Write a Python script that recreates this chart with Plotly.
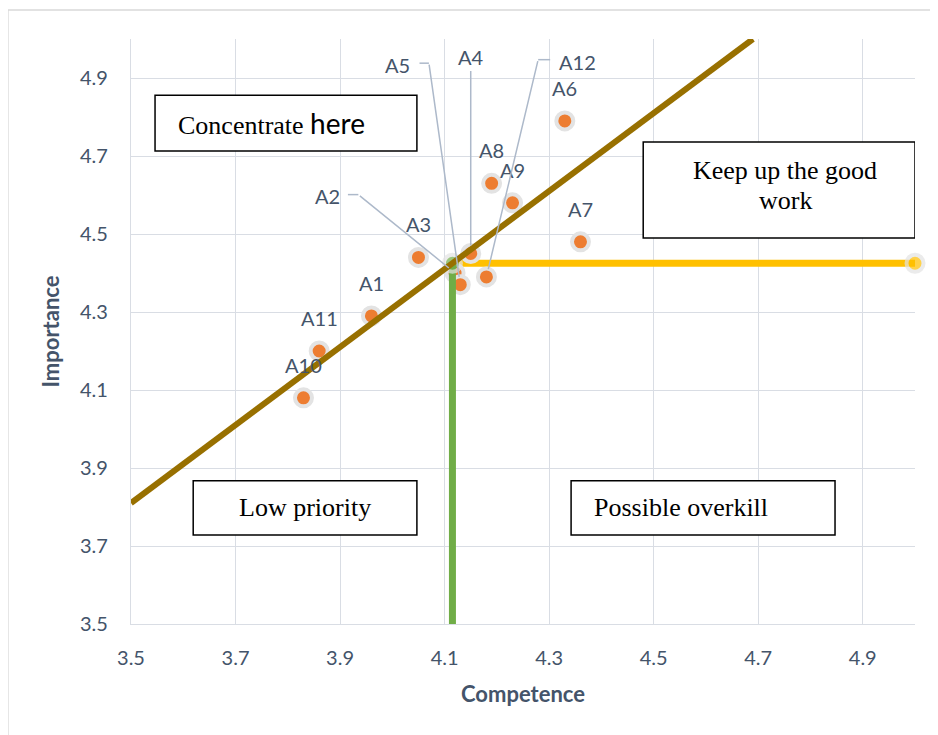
import plotly.graph_objects as go

# ---------------- data ----------------
labels = ["A1", "A2", "A3", "A4", "A5", "A6", "A7", "A8", "A9", "A10", "A11", "A12"]
competence = [3.96, 4.12, 4.05, 4.15, 4.13, 4.33, 4.36, 4.19, 4.23, 3.83, 3.86, 4.18]
importance = [4.29, 4.40, 4.44, 4.45, 4.37, 4.79, 4.48, 4.63, 4.58, 4.08, 4.20, 4.39]

mean_comp_x = [4.115, 4.115]
mean_comp_y = [3.5, 4.425]
mean_imp_x = [4.115, 5.0]
mean_imp_y = [4.425, 4.425]
diag_x = [3.5, 4.69]
diag_y = [3.81, 5.0]

tick_vals = [3.5, 3.7, 3.9, 4.1, 4.3, 4.5, 4.7, 4.9]
tick_text = ["3.5", "3.7", "3.9", "4.1", "4.3", "4.5", "4.7", "4.9"]

# labels with leader lines: label position, elbow start, elbow end (data units)
leader_labels = {
    "A2": dict(lx=3.875, ly=4.598, ex0=3.935, ex1=3.915, ey=4.601),
    "A5": dict(lx=4.009, ly=4.933, ex0=4.070, ex1=4.052, ey=4.938),
    "A4": dict(lx=4.15, ly=4.953, ex0=4.15, ex1=4.15, ey=4.922),
    "A12": dict(lx=4.355, ly=4.942, ex0=4.279, ex1=4.302, ey=4.947),
}

quadrant_boxes = [
    dict(x0=3.546, x1=4.047, y0=4.713, y1=4.856, xshift=-14,
         lines=["Concentrate <span style='font-family:Lato;font-size:28px'>here</span>"]),
    dict(x0=4.480, x1=5.0, y0=4.490, y1=4.736, xshift=6,
         lines=["Keep up the good", "work"]),
    dict(x0=3.619, x1=4.047, y0=3.728, y1=3.867, xshift=0, lines=["Low priority"]),
    dict(x0=4.342, x1=4.847, y0=3.728, y1=3.867, xshift=-22, lines=["Possible overkill"]),
]

# ---------------- styles ----------------
TXT = "#44546A"
GRID = "#D9DDE4"
FONT = "Lato"

fig = go.Figure()

fig.add_trace(go.Scatter(
    x=mean_imp_x, y=mean_imp_y, mode="lines+markers",
    line=dict(color="#FFC000", width=7),
    marker=dict(size=[0, 17], color="#FFC000", line=dict(color="#E3E3E3", width=[0, 4])),
    hoverinfo="skip", showlegend=False, cliponaxis=False))

fig.add_trace(go.Scatter(
    x=competence, y=importance, mode="markers",
    marker=dict(size=17, color="#ED7D31", line=dict(color="#E3E3E3", width=4)),
    text=labels, showlegend=False))

fig.add_trace(go.Scatter(
    x=mean_comp_x, y=mean_comp_y, mode="lines+markers",
    line=dict(color="#70AD47", width=7),
    marker=dict(size=[0, 17], color="#70AD47", line=dict(color="#E3E3E3", width=[0, 4])),
    hoverinfo="skip", showlegend=False))

fig.add_trace(go.Scatter(
    x=diag_x, y=diag_y, mode="lines",
    line=dict(color="#987000", width=6),
    hoverinfo="skip", showlegend=False))

annotations = []
shapes = []

for lab, cx, cy in zip(labels, competence, importance):
    if lab in leader_labels:
        d = leader_labels[lab]
        annotations.append(dict(x=d["lx"], y=d["ly"], text=lab, showarrow=False,
                                font=dict(family=FONT, size=20, color=TXT)))
        annotations.append(dict(x=cx, y=cy, ax=d["ex0"], ay=d["ey"], axref="x", ayref="y",
                                text="", showarrow=True, arrowhead=0, arrowwidth=1.5,
                                arrowcolor="#ADB9CA", standoff=8))
        if d["ex0"] != d["ex1"]:
            shapes.append(dict(type="line", xref="x", yref="y", x0=d["ex0"], x1=d["ex1"],
                               y0=d["ey"], y1=d["ey"], line=dict(color="#ADB9CA", width=1.5),
                               layer="above"))
    else:
        annotations.append(dict(x=cx, y=cy, text=lab, showarrow=False, yshift=33,
                                font=dict(family=FONT, size=20, color=TXT)))

for b in quadrant_boxes:
    shapes.append(dict(type="rect", xref="x", yref="y", x0=b["x0"], x1=b["x1"],
                       y0=b["y0"], y1=b["y1"], line=dict(color="black", width=1.5),
                       fillcolor="white", layer="above"))
    n = len(b["lines"])
    for i, t in enumerate(b["lines"]):
        annotations.append(dict(x=(b["x0"] + b["x1"]) / 2, y=(b["y0"] + b["y1"]) / 2,
                                text=t, showarrow=False, xshift=b["xshift"],
                                yshift=(n - 1) * 15 - i * 30 + (4 if n > 1 else 0),
                                font=dict(family="Liberation Serif", size=26, color="black")))

# outer chart border
shapes.append(dict(type="rect", xref="paper", yref="paper", x0=-0.157, x1=1.05,
                   y0=-0.25, y1=1.0496, line=dict(color="#D9D9D9", width=1.5),
                   layer="below"))

fig.update_layout(
    width=930, height=727,
    margin=dict(l=123, r=23, t=31, b=111),
    paper_bgcolor="white", plot_bgcolor="white",
    annotations=annotations, shapes=shapes,
    font=dict(family=FONT, color=TXT),
    xaxis=dict(range=[3.5, 5.0], tickvals=tick_vals, ticktext=tick_text,
               showgrid=True, gridcolor=GRID, gridwidth=1.3, zeroline=False,
               showline=True, linecolor=GRID, linewidth=1.3,
               ticks="", ticklabelstandoff=16,
               tickfont=dict(family=FONT, size=20, color=TXT),
               title=dict(text="<b>Competence</b>", standoff=18,
                          font=dict(family=FONT, size=22, color=TXT))),
    yaxis=dict(range=[3.5, 5.0], tickvals=tick_vals, ticktext=tick_text,
               showgrid=True, gridcolor=GRID, gridwidth=1.3, zeroline=False,
               showline=True, linecolor=GRID, linewidth=1.3,
               ticks="", ticklabelstandoff=18,
               tickfont=dict(family=FONT, size=20, color=TXT),
               title=dict(text="<b>Importance</b>", standoff=14,
                          font=dict(family=FONT, size=22, color=TXT))),
)

fig.write_html("out.html")
